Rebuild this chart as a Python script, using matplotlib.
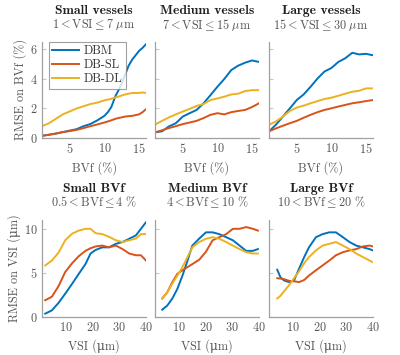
import matplotlib
matplotlib.use("Agg")
import matplotlib.pyplot as plt

plt.rcParams['font.family'] = ['cmr10', 'DejaVu Serif']
plt.rcParams['mathtext.fontset'] = 'cm'
plt.rcParams['axes.formatter.use_mathtext'] = True

C_DBM = '#0072BD'
C_SL = '#D95319'
C_DL = '#EDB120'

# ---- top row: RMSE on BVf vs BVf, per VSI class
bvf_x = [1, 2, 3, 4, 5, 6, 7, 8, 9, 10, 10.5, 11, 11.6, 12, 12.5, 13, 13.5, 14, 14.5, 15, 15.5, 16]
small_dbm = [0.15, 0.22, 0.3, 0.4, 0.5, 0.6, 0.8, 0.95, 1.2, 1.5, 1.75, 2.1, 2.85, 3.2, 3.7, 4.3, 4.9, 5.3, 5.6, 5.9, 6.1, 6.35]
small_sl = [0.15, 0.22, 0.3, 0.4, 0.47, 0.55, 0.67, 0.8, 0.92, 1.05, 1.12, 1.2, 1.3, 1.35, 1.4, 1.45, 1.48, 1.5, 1.55, 1.6, 1.75, 1.95]
small_dl = [0.8, 1.0, 1.3, 1.6, 1.8, 2.0, 2.15, 2.3, 2.4, 2.55, 2.6, 2.65, 2.75, 2.8, 2.88, 2.95, 3.0, 3.05, 3.05, 3.05, 3.08, 3.05]

bvf_x2 = [1, 2, 3, 4, 5, 6, 7, 8, 9, 10, 11, 12, 13, 14, 15, 16]
med_dbm = [0.38, 0.45, 0.78, 1.0, 1.45, 1.68, 1.9, 2.35, 2.9, 3.47, 4.0, 4.6, 4.9, 5.1, 5.25, 5.15]
med_sl = [0.38, 0.52, 0.67, 0.8, 0.94, 1.05, 1.16, 1.35, 1.57, 1.68, 1.6, 1.75, 1.83, 1.9, 2.1, 2.35]
med_dl = [0.9, 1.16, 1.39, 1.6, 1.79, 1.97, 2.17, 2.3, 2.57, 2.68, 2.8, 2.95, 3.0, 3.18, 3.24, 3.24]
large_dbm = [0.45, 0.9, 1.45, 2.0, 2.57, 2.95, 3.47, 4.03, 4.5, 4.74, 5.15, 5.4, 5.77, 5.66, 5.7, 5.6]
large_sl = [0.45, 0.65, 0.83, 1.0, 1.16, 1.37, 1.57, 1.75, 1.9, 2.01, 2.13, 2.24, 2.35, 2.42, 2.5, 2.57]
large_dl = [0.9, 1.12, 1.45, 1.83, 2.06, 2.19, 2.35, 2.5, 2.64, 2.73, 2.86, 3.0, 3.13, 3.2, 3.36, 3.36]

# ---- bottom row: RMSE on VSI vs VSI, per BVf class
vsi_x = [2.2, 4.7, 7.2, 9.7, 12.3, 14.8, 17.3, 19.2, 21.1, 23.6, 26.1, 28.7, 31.2, 33.7, 36.2, 38.1, 40]
sbvf_dbm = [0.38, 0.75, 1.6, 2.64, 3.77, 4.9, 6.0, 7.2, 7.6, 7.9, 7.9, 8.3, 8.5, 8.87, 9.25, 10.0, 10.75]
sbvf_sl = [1.9, 2.3, 3.5, 5.1, 6.1, 6.9, 7.5, 7.8, 8.0, 8.1, 7.9, 8.1, 7.7, 7.2, 7.0, 7.0, 6.4]
sbvf_dl = [5.85, 6.4, 7.3, 8.7, 9.45, 9.8, 10.0, 10.0, 9.5, 9.4, 9.1, 8.7, 8.5, 8.7, 8.9, 9.4, 9.4]

vsi_x2 = [3.7, 5.6, 7.5, 9.4, 11.3, 13.2, 15, 17.6, 20.1, 22.6, 25.1, 27.7, 30.2, 32.7, 35.2, 37.7, 39.6]
mbvf_dbm = [0.83, 1.3, 2.1, 3.2, 4.7, 6.4, 8.1, 8.9, 9.6, 9.6, 9.4, 9.05, 8.7, 8.1, 7.5, 7.5, 7.7]
mbvf_sl = [2.1, 2.8, 3.96, 4.9, 5.3, 5.66, 6.0, 6.5, 7.4, 8.7, 9.05, 9.4, 10.0, 10.0, 10.2, 10.0, 9.8]
mbvf_dl = [2.1, 2.8, 3.8, 4.7, 5.66, 6.8, 7.9, 8.5, 8.87, 9.05, 8.87, 8.5, 8.1, 7.7, 7.35, 7.2, 7.2]

vsi_x3 = [4.1, 5.3, 6.6, 8.5, 10.4, 12.3, 14.2, 16, 18.6, 21.1, 23.6, 26.1, 28.7, 31.2, 33.7, 36.2, 38.7, 40]
lbvf_dbm = [5.36, 4.5, 4.15, 3.96, 4.15, 5.5, 6.8, 7.9, 9.05, 9.4, 9.6, 9.6, 9.05, 8.5, 8.1, 7.9, 7.7, 7.55]
lbvf_sl = [4.4, 4.35, 4.3, 4.1, 4.05, 3.96, 4.2, 4.7, 5.3, 5.85, 6.4, 7.0, 7.35, 7.55, 7.7, 8.0, 8.1, 8.0]
lbvf_dl = [2.1, 2.4, 2.9, 3.6, 4.4, 5.2, 6.1, 6.8, 7.55, 8.1, 8.3, 8.5, 8.1, 7.7, 7.2, 6.8, 6.4, 6.2]

MU = '\u03bc'
top_titles = ["Small vessels", "Medium vessels", "Large vessels"]
top_sub = [r"$1 < \mathrm{VSI} \leq 7\ \mu\mathrm{m}$", r"$7 < \mathrm{VSI} \leq 15\ \mu\mathrm{m}$",
           r"$15 < \mathrm{VSI} \leq 30\ \mu\mathrm{m}$"]
bot_titles = ["Small BVf", "Medium BVf", "Large BVf"]
bot_sub = [r"$0.5 < \mathrm{BVf} \leq 4\ \%$", r"$4 < \mathrm{BVf} \leq 10\ \%$", r"$10 < \mathrm{BVf} \leq 20\ \%$"]

top_data = [(bvf_x, small_dbm, small_sl, small_dl),
            (bvf_x2, med_dbm, med_sl, med_dl),
            (bvf_x2, large_dbm, large_sl, large_dl)]
bot_data = [(vsi_x, sbvf_dbm, sbvf_sl, sbvf_dl),
            (vsi_x2, mbvf_dbm, mbvf_sl, mbvf_dl),
            (vsi_x3, lbvf_dbm, lbvf_sl, lbvf_dl)]

fig = plt.figure(figsize=(4, 3.55), dpi=100)
W, H = 400, 355
lefts = [42, 155, 269]
pw = 104
txt = '#555555'
fs = 8.8


def style(ax, first):
    for s in ['top', 'right']:
        ax.spines[s].set_visible(False)
    for s in ['left', 'bottom']:
        ax.spines[s].set_color('#a0a0a0')
        ax.spines[s].set_linewidth(0.9)
    ax.tick_params(axis='y', direction='in', length=3, color='#c8c8c8', labelsize=fs, labelcolor=txt, pad=3)
    ax.tick_params(axis='x', length=0, labelsize=fs, labelcolor=txt, pad=3)
    if not first:
        ax.tick_params(axis='y', labelleft=False)


def titles(ax, bold, sub):
    ax.annotate(sub, (0.5, 1), xycoords='axes fraction', xytext=(0, 12.5), textcoords='offset points',
                ha='center', va='center', fontsize=fs, color=txt)
    ax.annotate(bold, (0.5, 1), xycoords='axes fraction', xytext=(0, 22.3), textcoords='offset points',
                ha='center', va='center', fontsize=9.8, family=['cmb10', 'DejaVu Serif'], color='#222222')


for i in range(3):
    ax = fig.add_axes([lefts[i] / W, 1 - 138 / H, pw / W, 96 / H])
    x, a, b, c = top_data[i]
    ax.plot(x, a, color=C_DBM, lw=1.4, label='DBM')
    ax.plot(x, b, color=C_SL, lw=1.4, label='DB-SL')
    ax.plot(x, c, color=C_DL, lw=1.4, label='DB-DL')
    ax.set_xlim(1, 16)
    ax.set_ylim(0, 6.5)
    ax.set_xticks([5, 10, 15])
    ax.set_yticks([0, 2, 4, 6])
    style(ax, i == 0)
    ax.set_xlabel("BVf (%)", fontsize=fs, color=txt, labelpad=4)
    titles(ax, top_titles[i], top_sub[i])
    if i == 0:
        ax.set_ylabel("RMSE on BVf (%)", fontsize=fs, color=txt, labelpad=2)
        leg = ax.legend(loc='upper left', fontsize=fs, frameon=True, fancybox=False,
                        handlelength=2.2, handletextpad=0.4, borderpad=0.3, labelspacing=0.15,
                        borderaxespad=0.2, bbox_to_anchor=(0.04, 1.03))
        leg.get_frame().set_edgecolor('#888888')
        leg.get_frame().set_linewidth(0.8)
        for t in leg.get_texts():
            t.set_color('#333333')

for i in range(3):
    ax = fig.add_axes([lefts[i] / W, 1 - 317 / H, pw / W, 97 / H])
    x, a, b, c = bot_data[i]
    ax.plot(x, a, color=C_DBM, lw=1.4)
    ax.plot(x, b, color=C_SL, lw=1.4)
    ax.plot(x, c, color=C_DL, lw=1.4)
    ax.set_xlim(1, 40)
    ax.set_ylim(0, 11)
    ax.set_xticks([10, 20, 30, 40])
    ax.set_yticks([0, 5, 10])
    style(ax, i == 0)
    ax.set_xlabel("VSI (" + MU + "m)", fontsize=fs, color=txt, labelpad=4)
    titles(ax, bot_titles[i], bot_sub[i])
    if i == 0:
        ax.set_ylabel("RMSE on VSI (" + MU + "m)", fontsize=fs, color=txt, labelpad=2)

fig.savefig("out.png", dpi=100)
